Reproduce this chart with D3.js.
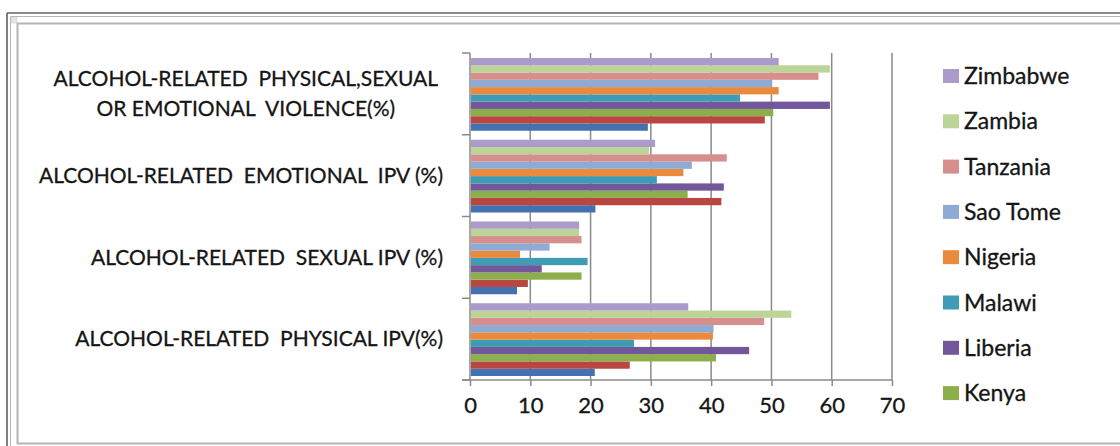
<!DOCTYPE html>
<html><head><meta charset="utf-8">
<script src="https://cdn.jsdelivr.net/npm/d3@7"></script>
<style>
html,body{margin:0;padding:0;background:#fff;}
svg{display:block;font-family:Lato,"Open Sans",sans-serif;}
text{white-space:pre;fill:#151515;stroke:#151515;stroke-width:0.3px;}
</style></head>
<body><svg id="c" width="1120" height="446"></svg>
<script>
// Categories bottom-to-top order as in source (Excel reverses)
const categories = [
  "ALCOHOL-RELATED  PHYSICAL IPV(%)",
  "ALCOHOL-RELATED  SEXUAL IPV (%)",
  "ALCOHOL-RELATED  EMOTIONAL  IPV (%)",
  "ALCOHOL-RELATED  PHYSICAL,SEXUAL|OR EMOTIONAL  VIOLENCE(%)"
];
// Series in data order (first = bottom bar of each group); the first two are not visible in the legend
const seriesNames = ["Series 1","Series 2","Kenya","Liberia","Malawi","Nigeria","Sao Tome","Tanzania","Zambia","Zimbabwe"];
const seriesColors = ["#4472B0","#BA4643","#8DAF4B","#72579B","#3E9DB5","#E98A3D","#8EABD6","#D68F8D","#BDD498","#AB9BCA"];
// values per series, in categories order
const s1 = [20.7, 7.8, 20.8, 29.5];
const s2 = [26.5, 9.6, 41.7, 48.9];
const kenya = [40.8, 18.5, 36.1, 50.3];
const liberia = [46.3, 11.9, 42.1, 59.7];
const malawi = [27.2, 19.5, 31.0, 44.8];
const nigeria = [40.3, 8.3, 35.4, 51.2];
const saoTome = [40.4, 13.2, 36.8, 50.1];
const tanzania = [48.8, 18.5, 42.6, 57.8];
const zambia = [53.3, 18.1, 29.7, 59.7];
const zimbabwe = [36.2, 18.1, 30.7, 51.2];
const seriesValues = [s1, s2, kenya, liberia, malawi, nigeria, saoTome, tanzania, zambia, zimbabwe];
const xTicks = [0,10,20,30,40,50,60,70];

const svg = d3.select("#c");

// frame
const fr = svg.append("g");
fr.append("line").attr("x1",7).attr("x2",7).attr("y1",13).attr("y2",446).attr("stroke","#555").attr("stroke-width",1.5);
fr.append("line").attr("x1",7).attr("x2",1120).attr("y1",13).attr("y2",13).attr("stroke","#666").attr("stroke-width",1.5);
fr.append("line").attr("x1",10.5).attr("x2",10.5).attr("y1",16.5).attr("y2",446).attr("stroke","#b5b5b5").attr("stroke-width",1);
fr.append("line").attr("x1",10.5).attr("x2",1120).attr("y1",16.5).attr("y2",16.5).attr("stroke","#b5b5b5").attr("stroke-width",1);
fr.append("rect").attr("x",11).attr("y",17).attr("width",6).attr("height",6).attr("fill","#e4e4e4").attr("stroke","#ccc").attr("stroke-width",0.5);
fr.append("path").attr("d","M1120,23.5 H17.5 V443.5 H1120").attr("fill","none").attr("stroke","#b4b4b4").attr("stroke-width",2);

const x = d3.scaleLinear().domain([0,70]).range([470,892]);
const yOrder = categories.slice().reverse();
const y0 = d3.scaleBand().domain(yOrder).range([53,380]).padding(0);
const bw = y0.bandwidth();
const y1 = d3.scaleBand().domain(seriesNames.slice().reverse()).range([5, bw-4]).padding(0);
const color = d3.scaleOrdinal().domain(seriesNames).range(seriesColors);

// gridlines
svg.append("g").selectAll("line").data(xTicks.slice(1)).join("line")
  .attr("x1",d=>x(d)).attr("x2",d=>x(d)).attr("y1",53).attr("y2",380)
  .attr("stroke","#8a8a8a").attr("stroke-width",1.5);

// bars
const groups = svg.append("g").selectAll("g").data(categories).join("g")
  .attr("transform",c=>`translate(0,${y0(c)})`);
groups.selectAll("rect").data((c,ci)=>seriesNames.map((s,si)=>({s, v: seriesValues[si][ci]}))).join("rect")
  .attr("x", x(0)+1).attr("y", d=>y1(d.s)).attr("height", y1.bandwidth())
  .attr("width", d=>x(d.v)-x(0)-1).attr("fill", d=>color(d.s));

// y axis
const ya = svg.append("g");
ya.append("line").attr("x1",470).attr("x2",470).attr("y1",53).attr("y2",380).attr("stroke","#8a8a8a").attr("stroke-width",1.5);
ya.selectAll("line.t").data(d3.range(categories.length+1)).join("line").attr("class","t")
  .attr("x1",462).attr("x2",470).attr("y1",i=>53+i*bw).attr("y2",i=>53+i*bw)
  .attr("stroke","#8a8a8a").attr("stroke-width",1.5);

// x axis
const xa = svg.append("g").attr("transform","translate(0,380)")
  .call(d3.axisBottom(x).tickValues(xTicks).tickSize(6).tickPadding(14).tickFormat(d3.format("d")));
xa.select(".domain").attr("stroke","#8a8a8a").attr("stroke-width",1.5).attr("d","M462,0H892");
xa.selectAll(".tick line").attr("stroke","#8a8a8a").attr("stroke-width",1.5);
xa.selectAll(".tick text").attr("font-size",22).attr("font-family","Lato,sans-serif").attr("fill","#151515").attr("dy","0.6em");

// category labels
const labG = svg.append("g").attr("font-size",21);
categories.forEach(c=>{
  const lines = c.split("|");
  const cy = y0(c)+bw/2;
  const lh = 30;
  const t = labG.append("text").attr("text-anchor", lines.length>1?"middle":"end");
  const tsp = lines.map((l,i)=>t.append("tspan").attr("y", cy + (i-(lines.length-1)/2)*lh).attr("dy","0.35em").text(l));
  if(lines.length>1){
    const w = d3.max(tsp, s=>s.node().getComputedTextLength());
    tsp.forEach(s=>s.attr("x", 438 - w/2));
  } else {
    tsp.forEach(s=>s.attr("x", 443));
  }
});

// legend (only the entries that fit inside the chart area, like the source)
const legItems = seriesNames.slice().reverse();
const legY = i => 76 + i*45.3;
const shown = legItems.filter((d,i)=>legY(i) < 420);
const leg = svg.append("g");
const li = leg.selectAll("g").data(shown).join("g").attr("transform",(d,i)=>`translate(943,${legY(i)})`);
li.append("rect").attr("x",0).attr("y",-7).attr("width",16).attr("height",14).attr("fill",d=>color(d)).attr("stroke","none");
li.append("text").attr("x",21).attr("dy","0.35em").attr("font-size",23).text(d=>d);
</script></body></html>
